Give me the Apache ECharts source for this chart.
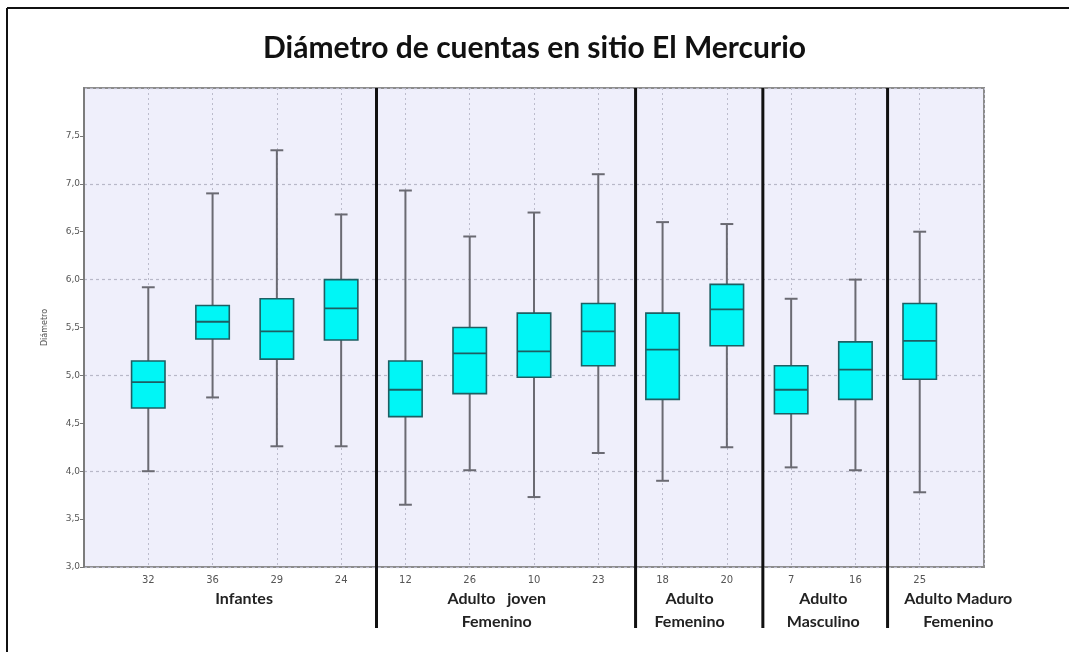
<!DOCTYPE html>
<html>
<head>
<meta charset="utf-8">
<script src="https://cdn.jsdelivr.net/npm/echarts@6/dist/echarts.min.js"></script>
<style>
  html, body { margin: 0; padding: 0; background: #ffffff; }
  #chart { width: 1069px; height: 652px; }
</style>
</head>
<body>
<div id="chart"></div>
<script>
// Sample sizes shown under each box
const categories = ['32', '36', '29', '24', '12', '26', '10', '23', '18', '20', '7', '16', '25'];
// Five-number summaries of bead diameter per sample
const lowVals  = [4.00, 4.77, 4.26, 4.26, 3.65, 4.01, 3.73, 4.19, 3.90, 4.25, 4.04, 4.01, 3.78];
const q1Vals   = [4.66, 5.38, 5.17, 5.37, 4.57, 4.81, 4.98, 5.10, 4.75, 5.31, 4.60, 4.75, 4.96];
const medVals  = [4.93, 5.56, 5.46, 5.70, 4.85, 5.23, 5.25, 5.46, 5.27, 5.69, 4.85, 5.06, 5.36];
const q3Vals   = [5.15, 5.73, 5.80, 6.00, 5.15, 5.50, 5.65, 5.75, 5.65, 5.95, 5.10, 5.35, 5.75];
const highVals = [5.92, 6.90, 7.35, 6.68, 6.93, 6.45, 6.70, 7.10, 6.60, 6.58, 5.80, 6.00, 6.50];
// Y axis tick labels (3,0 to 7,5 in steps of 0,5)
const yTickLabels = ['3,0', '3,5', '4,0', '4,5', '5,0', '5,5', '6,0', '6,5', '7,0', '7,5'];
const yTickValues = yTickLabels.map(s => parseFloat(s.replace(',', '.')));
// Group names and the boundaries between groups (in x-axis units)
const groupNames = [
  ['Infantes'],
  ['Adulto   joven', 'Femenino'],
  ['Adulto', 'Femenino'],
  ['Adulto', 'Masculino'],
  ['Adulto Maduro', 'Femenino']
];
const groupCenters = [2.49, 6.42, 9.42, 11.5, 13.6];
const groupBounds = [4.55, 8.58, 10.56, 12.5];

const boxData = categories.map((c, i) => [i + 1, lowVals[i], q1Vals[i], medVals[i], q3Vals[i], highVals[i]]);

const chart = echarts.init(document.getElementById('chart'), null, { renderer: 'canvas' });

const option = {
  backgroundColor: '#ffffff',
  animation: false,
  title: {
    text: 'Diámetro de cuentas en sitio El Mercurio',
    left: 'center',
    top: 28,
    textStyle: { fontFamily: 'Lato', fontWeight: 'bold', fontSize: 30, color: '#111111' }
  },
  grid: {
    left: 84, top: 88, right: 85, bottom: 85,
    show: true,
    backgroundColor: '#efeffb',
    borderColor: '#8c8c8c',
    borderWidth: 2
  },
  xAxis: {
    type: 'value',
    min: 0, max: 14, interval: 1,
    axisLine: { show: false },
    axisTick: { show: false },
    axisLabel: {
      margin: 8,
      fontFamily: 'DejaVu Sans',
      fontSize: 10,
      color: '#555555',
      formatter: v => (v >= 1 && v <= categories.length) ? categories[v - 1] : ''
    },
    splitLine: { show: true, lineStyle: { color: '#bcbccc', type: [2, 3], width: 1 } }
  },
  yAxis: [
    {
      type: 'value',
      min: 3, max: 8, interval: 0.5,
      name: 'Diámetro',
      nameLocation: 'middle',
      nameGap: 35,
      nameTextStyle: { fontFamily: 'DejaVu Sans', fontSize: 8, color: '#555555' },
      axisLine: { show: true, lineStyle: { color: '#7c7c7c', width: 2 } },
      axisTick: { show: true, length: 4, customValues: yTickValues, lineStyle: { color: '#777777' } },
      axisLabel: {
        margin: 4,
        fontFamily: 'DejaVu Sans',
        fontSize: 9,
        color: '#555555',
        customValues: yTickValues,
        formatter: v => {
          const idx = yTickValues.indexOf(v);
          return idx >= 0 ? yTickLabels[idx] : '';
        }
      },
      splitLine: { show: false }
    },
    {
      type: 'value',
      min: 3, max: 8, interval: 1,
      position: 'left',
      axisLine: { show: false },
      axisTick: { show: false },
      axisLabel: { show: false },
      splitLine: { show: true, lineStyle: { color: '#b8b8c8', type: [3, 3], width: 1.2 } }
    }
  ],
  series: [{
    type: 'custom',
    yAxisIndex: 0,
    data: boxData,
    renderItem: function (params, api) {
      const x = api.value(0);
      const pLow = api.coord([x, api.value(1)]);
      const pQ1 = api.coord([x, api.value(2)]);
      const pMed = api.coord([x, api.value(3)]);
      const pQ3 = api.coord([x, api.value(4)]);
      const pHigh = api.coord([x, api.value(5)]);
      const unit = api.size([1, 0])[0];
      const halfBox = unit * 0.26;
      const halfCap = unit * 0.1;
      const whiskerStyle = { stroke: '#6a6a72', lineWidth: 2 };
      const edge = '#1d5f63';
      return {
        type: 'group',
        children: [
          { type: 'line', shape: { x1: pHigh[0], y1: pHigh[1], x2: pQ3[0], y2: pQ3[1] }, style: whiskerStyle },
          { type: 'line', shape: { x1: pQ1[0], y1: pQ1[1], x2: pLow[0], y2: pLow[1] }, style: whiskerStyle },
          { type: 'line', shape: { x1: pHigh[0] - halfCap, y1: pHigh[1], x2: pHigh[0] + halfCap, y2: pHigh[1] }, style: whiskerStyle },
          { type: 'line', shape: { x1: pLow[0] - halfCap, y1: pLow[1], x2: pLow[0] + halfCap, y2: pLow[1] }, style: whiskerStyle },
          {
            type: 'rect',
            shape: { x: pQ3[0] - halfBox, y: pQ3[1], width: halfBox * 2, height: pQ1[1] - pQ3[1] },
            style: { fill: '#00f6f6', stroke: edge, lineWidth: 1.6 }
          },
          { type: 'line', shape: { x1: pMed[0] - halfBox, y1: pMed[1], x2: pMed[0] + halfBox, y2: pMed[1] }, style: { stroke: edge, lineWidth: 1.8 } }
        ]
      };
    }
  }]
};

chart.setOption(option);

// Group dividers, group names and the outer frame, placed through the axis scales
function placeOverlays() {
  const yTop = chart.convertToPixel({ yAxisIndex: 0 }, 8);
  const yBottom = chart.convertToPixel({ yAxisIndex: 0 }, 3);
  const elements = [];
  groupBounds.forEach(b => {
    const px = chart.convertToPixel({ xAxisIndex: 0 }, b);
    elements.push({
      type: 'line',
      shape: { x1: px, y1: yTop, x2: px, y2: yBottom + 61 },
      style: { stroke: '#111111', lineWidth: 3 },
      z: 10
    });
  });
  groupNames.forEach((lines, i) => {
    const px = chart.convertToPixel({ xAxisIndex: 0 }, groupCenters[i]);
    elements.push({
      type: 'text',
      x: px,
      y: yBottom + 20,
      style: {
        text: lines.join('\n'),
        align: 'center',
        verticalAlign: 'top',
        fontFamily: 'Lato',
        fontWeight: 'bold',
        fontSize: 16,
        lineHeight: 23,
        fill: '#222222'
      },
      z: 10
    });
  });
  elements.push({ type: 'line', shape: { x1: 7, y1: 8, x2: 1069, y2: 8 }, style: { stroke: '#111111', lineWidth: 2 } });
  elements.push({ type: 'line', shape: { x1: 7, y1: 8, x2: 7, y2: 652 }, style: { stroke: '#111111', lineWidth: 2 } });
  chart.setOption({ graphic: { elements: elements } });
}
placeOverlays();
</script>
</body>
</html>
